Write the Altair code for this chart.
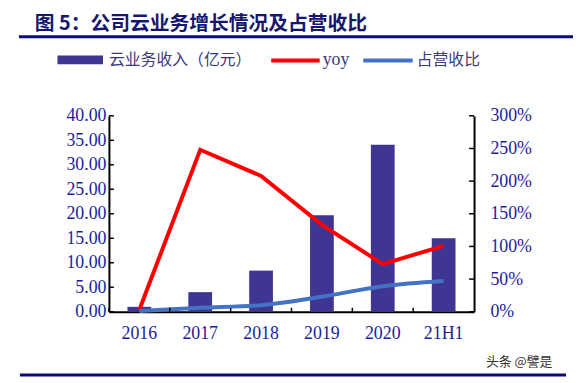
import altair as alt
import pandas as pd

categories = ["2016", "2017", "2018", "2019", "2020", "21H1"]
revenue = [1.0, 4.0, 8.4, 19.7, 34.1, 15.0]
yoy = [0.03, 2.48, 2.08, 1.33, 0.73, 1.01]
share = [0.01, 0.06, 0.10, 0.23, 0.39, 0.47]
left_ticks = [0, 5, 10, 15, 20, 25, 30, 35, 40]
right_ticks = [0, 0.5, 1.0, 1.5, 2.0, 2.5, 3.0]
legend_labels = ["云业务收入（亿元）", "yoy", "占营收比"]
title_text = "图 5：公司云业务增长情况及占营收比"
watermark = "头条 @譬是"

BAR = "#3f3592"
RED = "#ff0000"
BLUE = "#4472c4"
LAB = "#1c1c9c"
NAVY = "#0b0b7e"
SERIF = "Liberation Serif"
CJK = "Noto Sans CJK SC"

W, H = 369, 198

df = pd.DataFrame({"cat": categories, "revenue": revenue, "yoy": yoy, "share": share})
one = pd.DataFrame({"a": [0]})

xenc = alt.X("cat:N", sort=categories,
             scale=alt.Scale(paddingInner=0, paddingOuter=0),
             axis=alt.Axis(title=None, labelAngle=0, ticks=False, labelPadding=13,
                           labelFont=SERIF, labelFontSize=18, labelColor=LAB,
                           domainColor="black", domainWidth=2))

left_axis = alt.Axis(title=None, values=left_ticks, format=".2f", grid=False,
                     ticks=False, labelPadding=3, labelFont=SERIF, labelFontSize=18,
                     labelColor=LAB, domainColor="black", domainWidth=2, orient="left")
right_axis = alt.Axis(title=None, values=right_ticks, format=".0%", grid=False,
                      ticks=False, labelPadding=16, labelFont=SERIF, labelFontSize=18,
                      labelColor=LAB, domainColor="black", domainWidth=2, orient="right")

bars = alt.Chart(df).mark_bar(size=24, color=BAR).encode(
    x=xenc,
    y=alt.Y("revenue:Q", scale=alt.Scale(domain=[0, 40]), axis=left_axis),
)
lticks = alt.Chart(pd.DataFrame({"revenue": left_ticks})).mark_rule(color="black", strokeWidth=1.5).encode(
    y=alt.Y("revenue:Q", scale=alt.Scale(domain=[0, 40]), axis=left_axis), x=alt.value(0), x2=alt.value(5))
left = alt.layer(bars, lticks)

red = alt.Chart(df).mark_line(color=RED, strokeWidth=4).encode(
    x=alt.X("cat:N", sort=categories),
    y=alt.Y("yoy:Q", scale=alt.Scale(domain=[0, 3]), axis=right_axis),
)
blue = alt.Chart(df).mark_line(color=BLUE, strokeWidth=4, interpolate="monotone").encode(
    x=alt.X("cat:N", sort=categories),
    y=alt.Y("share:Q", scale=alt.Scale(domain=[0, 3]), axis=right_axis),
)
rticks = alt.Chart(pd.DataFrame({"yoy": right_ticks})).mark_rule(color="black", strokeWidth=1.5).encode(
    y=alt.Y("yoy:Q", scale=alt.Scale(domain=[0, 3]), axis=right_axis), x=alt.value(W), x2=alt.value(W - 5))
right = alt.layer(red, blue, rticks)

xticks = alt.Chart(pd.DataFrame({"cat": categories})).mark_rule(color="black", strokeWidth=1.5).encode(
    x=alt.X("cat:N", sort=categories, bandPosition=0),
    y=alt.value(H), y2=alt.value(H - 4))

# decorations
title = alt.Chart(one).mark_text(text=title_text, font=CJK, fontSize=20, fontWeight="bold",
                                 color="#16166e", align="left", baseline="middle").encode(
    x=alt.value(-75), y=alt.value(-93))
title_rule = alt.Chart(one).mark_rule(color=NAVY, strokeWidth=3).encode(
    x=alt.value(-91), x2=alt.value(471), y=alt.value(-80))
bottom_rule = alt.Chart(one).mark_rule(color=NAVY, strokeWidth=3).encode(
    x=alt.value(-90), x2=alt.value(462), y=alt.value(262))
wm = alt.Chart(one).mark_text(text=watermark, font=CJK, fontSize=13, color="#333333",
                              align="left", baseline="middle").encode(
    x=alt.value(381), y=alt.value(249))

leg_bar = alt.Chart(one).mark_rect(color=BAR).encode(
    x=alt.value(-52), x2=alt.value(-6), y=alt.value(-61), y2=alt.value(-52))
leg_t1 = alt.Chart(one).mark_text(text=legend_labels[0], font=CJK, fontSize=16, color="#3b3b7b",
                                  align="left", baseline="middle").encode(
    x=alt.value(0), y=alt.value(-56))
leg_red = alt.Chart(one).mark_rule(color=RED, strokeWidth=4).encode(
    x=alt.value(164), x2=alt.value(213), y=alt.value(-56))
leg_t2 = alt.Chart(one).mark_text(text=legend_labels[1], font=SERIF, fontSize=18, color="#3b3b7b",
                                  align="left", baseline="middle").encode(
    x=alt.value(216), y=alt.value(-56))
leg_blue = alt.Chart(one).mark_rule(color=BLUE, strokeWidth=4).encode(
    x=alt.value(257), x2=alt.value(307), y=alt.value(-56))
leg_t3 = alt.Chart(one).mark_text(text=legend_labels[2], font=CJK, fontSize=16, color="#3b3b7b",
                                  align="left", baseline="middle").encode(
    x=alt.value(311), y=alt.value(-56))

chart = alt.layer(
    left, right, xticks, title, title_rule, bottom_rule, wm,
    leg_bar, leg_t1, leg_red, leg_t2, leg_blue, leg_t3,
).resolve_scale(y="independent").properties(
    width=W, height=H,
    autosize=alt.AutoSizeParams(type="none"),
    padding={"left": 102, "top": 107, "right": 100, "bottom": 66},
    background="white",
).configure_view(stroke=None)

chart.save("out.html", embed_options={"renderer": "svg", "actions": False})
